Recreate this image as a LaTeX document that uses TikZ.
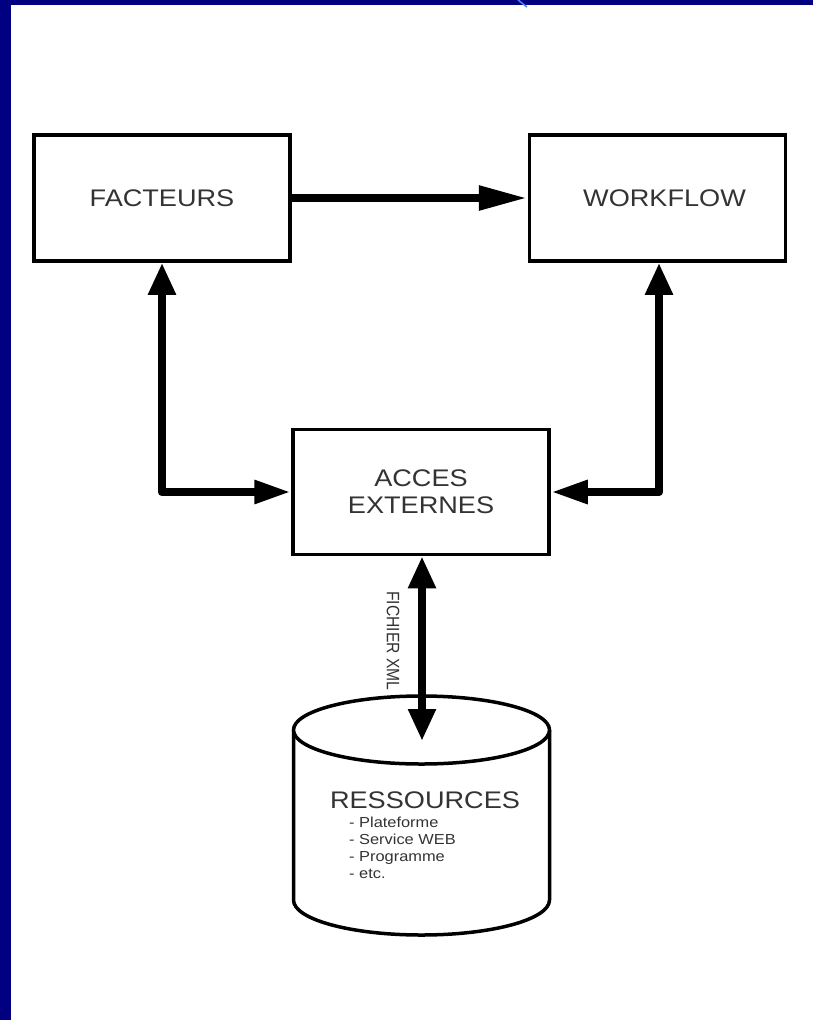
\documentclass[tikz,border=0pt]{standalone}
\usepackage{fontspec}
\setmainfont{Liberation Sans}
\newfontfamily\widefont[FakeStretch=1.13]{Liberation Sans}
\newfontfamily\narrowfont[FakeStretch=0.87]{Liberation Sans}
\usetikzlibrary{arrows.meta}
\definecolor{navy}{HTML}{000080}
\definecolor{txtgray}{HTML}{333333}
\definecolor{lightblue}{HTML}{4F7FFF}
\begin{document}
\begin{tikzpicture}[x=1pt,y=-1pt,
  boxnode/.style={draw, line width=3.5pt, rectangle, inner sep=0pt,
    minimum width=256pt, minimum height=126pt, text=txtgray,
    font=\widefont\fontsize{24}{27}\selectfont, align=center},
  vtip/.tip={Triangle[length=32pt,width=26pt]},
  htip/.tip={Triangle[length=37pt,width=22pt]},
  longtip/.tip={Triangle[length=49pt,width=23pt]},
  onearrow/.style={line width=8.5pt, line join=round, -longtip},
  elbowarrow/.style={line width=8.5pt, line join=round, vtip-htip},
  vertarrow/.style={line width=8.5pt, vtip-vtip},
  cyl/.style={line width=3.5pt}]
\useasboundingbox (0,0) rectangle (813,1020);
% border
\fill[navy] (0,0) rectangle (11,1020);
\fill[navy] (0,0) rectangle (813,5);
\draw[lightblue, line width=1.5pt] (518,0) -- (527,7);
% boxes
\node[boxnode] (fac) at (162,198) {FACTEURS};
\node[boxnode] (wf) at (657.5,198) {\hspace*{14pt}WORKFLOW};
\node[boxnode, minimum height=125pt] (acc) at (421,492) {ACCES\\EXTERNES};
% cylinder
\fill[white] (293.5,730) -- (293.5,900) arc[start angle=180, end angle=360, x radius=128pt, y radius=35pt] -- (549.5,730) -- cycle;
\draw[cyl] (293.5,730) -- (293.5,900) arc[start angle=180, end angle=360, x radius=128pt, y radius=35pt] -- (549.5,730);
\draw[cyl, fill=white] (421.5,730) ellipse [x radius=128pt, y radius=34pt];
\node[text=txtgray, font=\widefont\fontsize{24}{27}\selectfont] (res) at (425,800) {RESSOURCES};
\node[text=txtgray, anchor=north west, inner sep=0pt, align=left,
  font=\widefont\fontsize{14.5}{17}\selectfont] (items) at (349,817)
  {- Plateforme\\- Service WEB\\- Programme\\- etc.};
\coordinate (cyltop) at (422,741);
% connectors
\draw[onearrow] (fac.east) -- (wf.west);
\draw[elbowarrow] (fac.south) |- (acc.west);
\draw[elbowarrow] ([xshift=1.5pt]wf.south) |- (acc.east);
\draw[vertarrow] ([xshift=1pt]acc.south) -- (cyltop);
\node[rotate=-90, text=txtgray, font=\narrowfont\fontsize{18}{18}\selectfont] (xml) at (393,641) {FICHIER XML};
\end{tikzpicture}
\end{document}
